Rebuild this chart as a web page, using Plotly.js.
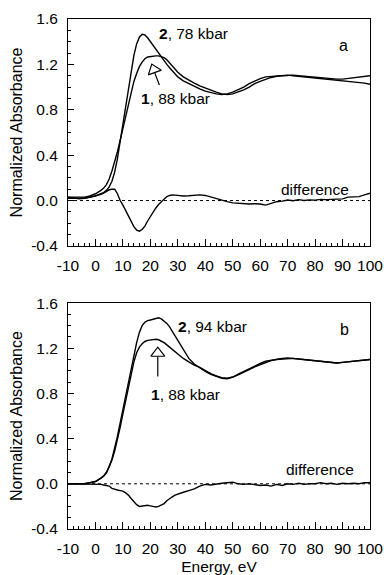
<!DOCTYPE html>
<html>
<head>
<meta charset="utf-8">
<script src="https://cdn.plot.ly/plotly-3.0.1.min.js"></script>
<style>
html,body{margin:0;padding:0;background:#fff;}
#chart{width:384px;height:575px;}
</style>
</head>
<body>
<div id="chart"></div>
<script>
// ---------- Data ----------
const energy = [-10,-8,-6,-4,-2,0,2,3,4,5,6,7,8,9,10,11,12,13,14,15,16,17,18,19,20,21,22,23,24,25,26,27,28,29,30,32,34,36,38,40,42,44,46,48,50,52,54,56,58,60,62,64,66,68,70,72,74,76,78,80,82,84,86,88,90,92,94,96,98,100];

// Panel a
const absA_78 = [0.03,0.02,0.015,0.02,0.03,0.04,0.06,0.07,0.09,0.12,0.17,0.25,0.37,0.52,0.67,0.83,0.99,1.14,1.28,1.38,1.44,1.465,1.46,1.435,1.40,1.365,1.33,1.30,1.27,1.235,1.20,1.17,1.14,1.115,1.09,1.055,1.03,1.005,0.985,0.965,0.95,0.94,0.935,0.94,0.955,0.975,1.0,1.03,1.055,1.075,1.09,1.095,1.10,1.10,1.105,1.10,1.095,1.09,1.085,1.08,1.08,1.075,1.07,1.065,1.06,1.055,1.05,1.04,1.035,1.025];
const absA_88 = [0.03,0.03,0.03,0.03,0.04,0.06,0.09,0.11,0.14,0.19,0.26,0.34,0.43,0.53,0.64,0.75,0.86,0.96,1.05,1.12,1.18,1.22,1.25,1.265,1.27,1.275,1.275,1.275,1.27,1.26,1.24,1.21,1.18,1.155,1.13,1.09,1.06,1.035,1.01,0.99,0.97,0.955,0.94,0.935,0.94,0.955,0.975,1.0,1.03,1.05,1.07,1.085,1.095,1.10,1.105,1.105,1.10,1.095,1.09,1.085,1.085,1.08,1.075,1.07,1.07,1.075,1.08,1.085,1.09,1.10];
const diffA = [0.02,0.02,0.015,0.02,0.03,0.04,0.055,0.065,0.08,0.095,0.10,0.10,0.06,0.0,-0.04,-0.09,-0.14,-0.19,-0.23,-0.26,-0.27,-0.255,-0.225,-0.18,-0.14,-0.10,-0.065,-0.035,-0.01,0.015,0.035,0.045,0.05,0.048,0.045,0.04,0.042,0.045,0.05,0.045,0.03,0.015,0.0,-0.01,-0.02,-0.025,-0.03,-0.03,-0.028,-0.03,-0.04,-0.025,-0.01,-0.005,0.005,-0.002,0.008,0.0,0.006,0.004,0.01,0.008,0.012,0.01,0.015,0.03,0.03,0.035,0.05,0.065];

// Panel b
const absB_94 = [0.0,0.0,0.0,0.0,0.01,0.02,0.05,0.07,0.10,0.15,0.22,0.31,0.42,0.54,0.66,0.79,0.91,1.03,1.14,1.25,1.34,1.40,1.43,1.445,1.45,1.455,1.465,1.47,1.46,1.44,1.42,1.39,1.35,1.31,1.27,1.19,1.11,1.06,1.025,0.995,0.97,0.95,0.935,0.93,0.945,0.97,0.995,1.02,1.045,1.065,1.085,1.095,1.10,1.11,1.115,1.11,1.105,1.10,1.095,1.09,1.085,1.08,1.075,1.07,1.075,1.08,1.085,1.09,1.095,1.10];
const absB_88 = [0.0,0.0,0.0,0.0,0.01,0.02,0.05,0.07,0.10,0.15,0.21,0.29,0.39,0.50,0.62,0.74,0.86,0.98,1.08,1.16,1.21,1.24,1.26,1.27,1.275,1.28,1.28,1.275,1.265,1.25,1.23,1.21,1.19,1.17,1.15,1.11,1.08,1.05,1.03,1.0,0.975,0.955,0.94,0.935,0.945,0.965,0.985,1.01,1.035,1.055,1.075,1.09,1.10,1.105,1.11,1.11,1.105,1.10,1.095,1.09,1.085,1.08,1.075,1.07,1.075,1.08,1.085,1.09,1.095,1.10];
const diffB = [0.0,0.0,0.0,0.0,0.0,0.0,-0.005,-0.01,-0.015,-0.02,-0.04,-0.05,-0.055,-0.06,-0.065,-0.08,-0.10,-0.13,-0.16,-0.185,-0.20,-0.195,-0.195,-0.19,-0.195,-0.20,-0.205,-0.20,-0.19,-0.175,-0.15,-0.13,-0.115,-0.10,-0.09,-0.075,-0.06,-0.045,-0.02,-0.005,-0.01,0.0,0.005,0.01,0.015,0.0,-0.005,0.0,-0.01,-0.015,-0.01,-0.02,-0.005,-0.015,0.0,-0.005,0.005,-0.005,0.0,0.0,0.01,0.0,0.005,-0.005,0.005,0.0,0.005,0.0,0.01,0.01];

const xTickVals = [-10,0,10,20,30,40,50,60,70,80,90,100];
const yTickVals = [-0.4,0.0,0.4,0.8,1.2,1.6];

// ---------- Traces ----------
const lineStyle = {color:'#000', width:1.4};
function curve(x, y, xa, ya){
  return {x:x, y:y, xaxis:xa, yaxis:ya, type:'scatter', mode:'lines', line:lineStyle, hoverinfo:'skip', showlegend:false};
}
function arrowHead(x, y, xa, ya, ang){
  return {x:[x], y:[y], xaxis:xa, yaxis:ya, type:'scatter', mode:'markers', showlegend:false, hoverinfo:'skip',
    marker:{symbol:'triangle-up-open', size:12, angle:ang, color:'#000', line:{color:'#000', width:1.2}}};
}
const traces = [
  curve(energy, absA_78, 'x2', 'y2'),
  curve(energy, absA_88, 'x2', 'y2'),
  curve(energy, diffA, 'x2', 'y2'),
  curve(energy, absB_94, 'x', 'y'),
  curve(energy, absB_88, 'x', 'y'),
  curve(energy, diffB, 'x', 'y'),
  arrowHead(21.26, 1.153, 'x2', 'y2', -20),
  arrowHead(22.7, 1.156, 'x', 'y', 0)
];

// ---------- Layout ----------
const font = {family:'Liberation Sans, Arial, sans-serif', size:15.5, color:'#000'};
function xAxis(domainAnchor, withTitle){
  const ax = {
    anchor: domainAnchor, range:[-10,100], tickvals:xTickVals, ticktext:xTickVals.map(String),
    ticks:'inside', ticklen:7, tickwidth:1, tickcolor:'#000',
    minor:{dtick:2, tick0:0, ticks:'inside', ticklen:3, tickwidth:1, tickcolor:'#000'},
    showline:true, linecolor:'#000', linewidth:1, mirror:true,
    showgrid:false, zeroline:false, tickfont:{family:font.family, size:15.5, color:'#000'},
    ticklabelstandoff:5, fixedrange:true
  };
  if (withTitle) ax.title = {text:'Energy, eV', font:{family:font.family, size:15.5, color:'#000'}, standoff:8};
  return ax;
}
function yAxis(domain, anchor){
  return {
    anchor: anchor, domain: domain, range:[-0.4,1.6], tickvals:yTickVals, ticktext:yTickVals.map(v=>v.toFixed(1)),
    ticks:'inside', ticklen:6, tickwidth:1, tickcolor:'#000',
    minor:{dtick:0.1, tick0:0, ticks:'inside', ticklen:3, tickwidth:1, tickcolor:'#000'},
    showline:true, linecolor:'#000', linewidth:1, mirror:true,
    showgrid:false, zeroline:false, tickfont:{family:font.family, size:15.5, color:'#000'},
    ticklabelstandoff:6,
    title:{text:'Normalized Absorbance', font:{family:font.family, size:16, color:'#000'}, standoff:4},
    fixedrange:true
  };
}

const layout = {
  width:384, height:575,
  margin:{l:68, r:14, t:19, b:46},
  paper_bgcolor:'#fff', plot_bgcolor:'#fff',
  font: font,
  showlegend:false,
  xaxis: xAxis('y', true),
  yaxis: yAxis([0, 0.443], 'x'),
  xaxis2: xAxis('y2', false),
  yaxis2: yAxis([0.555, 1], 'x2'),
  shapes: [
    {type:'line', xref:'x2 domain', yref:'y2', x0:0, x1:1, y0:0, y1:0, line:{color:'#000', width:1, dash:'dot'}, layer:'below'},
    {type:'line', xref:'x domain', yref:'y', x0:0, x1:1, y0:0, y1:0, line:{color:'#000', width:1, dash:'dot'}, layer:'below'}
  ],
  annotations: [
    // panel a
    {xref:'x2', yref:'y2', x:22.4, y:1.47, text:'<b>2</b>, 78 kbar', showarrow:false, xanchor:'left', yanchor:'middle', font:font},
    {xref:'x2', yref:'y2', x:15.7, y:0.90, text:'<b>1</b>, 88 kbar', showarrow:false, xanchor:'left', yanchor:'middle', font:font},
    {xref:'x2', yref:'y2', x:21.6, y:1.125, ax:23.5, ay:1.005, axref:'x2', ayref:'y2', text:'', showarrow:true, arrowhead:0, arrowwidth:1.2, arrowcolor:'#000', standoff:0, startstandoff:0},
    {xref:'x2', yref:'y2', x:90.2, y:1.37, text:'a', showarrow:false, xanchor:'center', yanchor:'middle', font:{family:font.family, size:16, color:'#000'}},
    {xref:'x2', yref:'y2', x:80, y:0.094, text:'difference', showarrow:false, xanchor:'center', yanchor:'middle', font:font},
    // panel b
    {xref:'x', yref:'y', x:29.3, y:1.394, text:'<b>2</b>, 94 kbar', showarrow:false, xanchor:'left', yanchor:'middle', font:font},
    {xref:'x', yref:'y', x:19.4, y:0.79, text:'<b>1</b>, 88 kbar', showarrow:false, xanchor:'left', yanchor:'middle', font:font},
    {xref:'x', yref:'y', x:22.7, y:1.127, ax:22.7, ay:0.937, axref:'x', ayref:'y', text:'', showarrow:true, arrowhead:0, arrowwidth:1.2, arrowcolor:'#000', standoff:0, startstandoff:0},
    {xref:'x', yref:'y', x:90.8, y:1.37, text:'b', showarrow:false, xanchor:'center', yanchor:'middle', font:{family:font.family, size:16, color:'#000'}},
    {xref:'x', yref:'y', x:81.7, y:0.126, text:'difference', showarrow:false, xanchor:'center', yanchor:'middle', font:font}
  ]
};

Plotly.newPlot('chart', traces, layout, {displayModeBar:false, staticPlot:true});
</script>
</body>
</html>
